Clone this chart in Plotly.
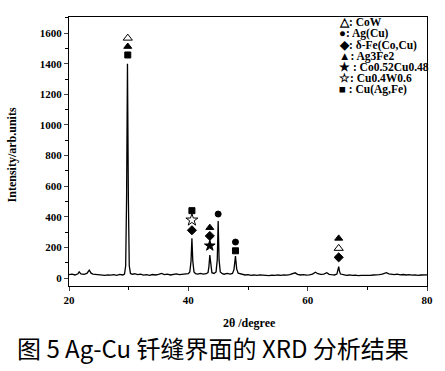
import plotly.graph_objects as go

# XRD pattern (2theta in degree, intensity in arb. units)
two_theta = [20.0, 20.5, 21.0, 21.5, 21.7, 22.0, 22.5, 23.0, 23.4, 23.7, 24.0, 24.5, 25.0, 25.5,
             26.0, 26.5, 27.0, 27.5, 28.0, 28.5, 29.0, 29.3, 29.5, 29.65, 29.8, 29.95, 30.1, 30.3,
             30.6, 31.0, 31.5, 32.0, 32.5, 33.0, 33.5, 34.0, 34.5, 35.0, 35.5, 36.0, 36.5, 37.0,
             37.5, 38.0, 38.5, 39.0, 39.5, 40.0, 40.25, 40.45, 40.6, 40.75, 40.95, 41.2, 41.6, 42.0,
             42.5, 43.0, 43.3, 43.45, 43.6, 43.75, 43.95, 44.3, 44.65, 44.85, 45.0, 45.15, 45.35, 45.7,
             46.0, 46.5, 47.0, 47.4, 47.65, 47.9, 48.1, 48.35, 48.6, 49.0, 49.5, 50.0, 50.5, 51.0,
             51.5, 52.0, 52.5, 53.0, 53.5, 54.0, 54.5, 55.0, 55.5, 56.0, 56.5, 57.0, 57.5, 57.9,
             58.3, 58.8, 59.3, 59.8, 60.3, 60.8, 61.3, 61.7, 62.2, 62.7, 63.2, 63.6, 64.0, 64.5,
             64.9, 65.05, 65.2, 65.35, 65.5, 66.0, 66.5, 67.0, 67.5, 68.0, 68.5, 69.0, 69.5, 70.0,
             70.5, 71.0, 71.5, 72.0, 72.5, 73.2, 73.6, 74.0, 74.5, 75.0, 75.5, 76.0, 76.5, 77.0,
             77.5, 78.0, 78.5, 79.0, 79.5, 80.0]
intensity = [22, 26, 20, 28, 40, 27, 24, 30, 52, 32, 26, 24, 20, 22,
             18, 21, 19, 22, 18, 24, 20, 26, 80, 520, 1400, 520, 80, 30,
             24, 28, 22, 25, 19, 22, 18, 23, 20, 24, 30, 22, 26, 20,
             23, 27, 22, 25, 24, 28, 40, 110, 260, 110, 40, 28, 26, 30,
             25, 28, 35, 75, 150, 75, 35, 30, 40, 120, 372, 120, 40, 28,
             25, 30, 26, 30, 55, 144, 60, 32, 30, 25, 20, 22, 18, 20,
             17, 21, 18, 20, 16, 19, 17, 20, 18, 21, 19, 22, 28, 34,
             24, 20, 22, 19, 21, 26, 38, 28, 24, 26, 35, 24, 22, 20,
             26, 45, 74, 42, 26, 22, 18, 20, 17, 19, 16, 18, 17, 19,
             18, 20, 19, 22, 25, 35, 27, 24, 22, 26, 21, 23, 20, 22,
             19, 21, 18, 20, 19, 21]

# Phase markers above the peaks
cow_x, cow_y = [29.85, 65.2], [1567, 194]
agcu_x, agcu_y = [45.0, 47.9], [418, 235]
dfe_x, dfe_y = [40.6, 43.6, 65.2], [312, 275, 135]
ag3fe2_x, ag3fe2_y = [29.85, 43.6, 65.2], [1512, 329, 259]
cocu_x, cocu_y = [43.6], [211]
cuw_x, cuw_y = [40.6], [379]
cuagfe_x, cuagfe_y = [29.85, 40.6, 47.9], [1457, 440, 178]

legend_lines = ["△: CoW", "●: Ag(Cu)", "◆: δ-Fe(Co,Cu)", "▲: Ag3Fe2",
                "★ : Co0.52Cu0.48", "☆: Cu0.4W0.6", "■ : Cu(Ag,Fe)"]
legend_y = [1675, 1594, 1522, 1450, 1378, 1306, 1234]

x_ticks = [20, 40, 60, 80]
y_ticks = [0, 200, 400, 600, 800, 1000, 1200, 1400, 1600]

serif = "Liberation Serif"

fig = go.Figure()
fig.add_trace(go.Scatter(x=two_theta, y=intensity, mode="lines",
                         line=dict(color="black", width=1.3), showlegend=False))

markers = [
    (cow_x, cow_y, "triangle-up-open", 8),
    (agcu_x, agcu_y, "circle", 6),
    (dfe_x, dfe_y, "diamond", 7),
    (ag3fe2_x, ag3fe2_y, "triangle-up", 7),
    (cocu_x, cocu_y, "star", 8),
    (cuw_x, cuw_y, "star-open", 9),
    (cuagfe_x, cuagfe_y, "square", 6),
]
for mx, my, sym, sz in markers:
    fig.add_trace(go.Scatter(x=mx, y=my, mode="markers", showlegend=False,
                             marker=dict(symbol=sym, size=sz, color="black",
                                         line=dict(color="black", width=1))))

for txt, ly in zip(legend_lines, legend_y):
    fig.add_annotation(x=65.0, y=ly, xref="x", yref="y", text=txt, showarrow=False,
                       xanchor="left", yanchor="middle", borderpad=0,
                       font=dict(family=serif, size=11.5, color="black", weight="bold"))

fig.add_annotation(x=50.25, y=-0.138, xref="x", yref="paper", text="2θ /degree",
                   showarrow=False, xanchor="center", yanchor="middle",
                   font=dict(family=serif, size=12, color="black", weight="bold"))
fig.add_annotation(x=-0.158, y=0.487, xref="paper", yref="paper", text="Intensity/arb.units",
                   showarrow=False, textangle=-90, xanchor="center", yanchor="middle",
                   font=dict(family=serif, size=12, color="black", weight="bold"))
fig.add_annotation(x=0.402, y=-0.2268, xref="paper", yref="paper",
                   text="图 5 Ag-Cu 钎缝界面的 XRD 分析结果", showarrow=False,
                   xanchor="center", yanchor="middle",
                   font=dict(family="Noto Sans CJK SC", size=24, color="black"))

fig.update_xaxes(range=[20, 80], tickvals=x_ticks, ticks="outside", ticklen=4,
                 showline=True, linecolor="black", linewidth=1, mirror=True,
                 showgrid=False, zeroline=False,
                 minor=dict(dtick=10, ticks="outside", ticklen=3, tickcolor="black"),
                 tickfont=dict(family=serif, size=11, color="black", weight="bold"))
fig.update_yaxes(range=[-52, 1705], tickvals=y_ticks, ticks="outside", ticklen=4,
                 showline=True, linecolor="black", linewidth=1, mirror=True,
                 showgrid=False, zeroline=False,
                 minor=dict(dtick=100, ticks="outside", ticklen=3, tickcolor="black"),
                 tickfont=dict(family=serif, size=11, color="black", weight="bold"))

fig.update_layout(width=445, height=371, margin=dict(l=69, r=13, t=17, b=85),
                  plot_bgcolor="white", paper_bgcolor="white")

fig.write_html("out.html", config={"displayModeBar": False},
               post_script="document.body.style.margin='0';")
